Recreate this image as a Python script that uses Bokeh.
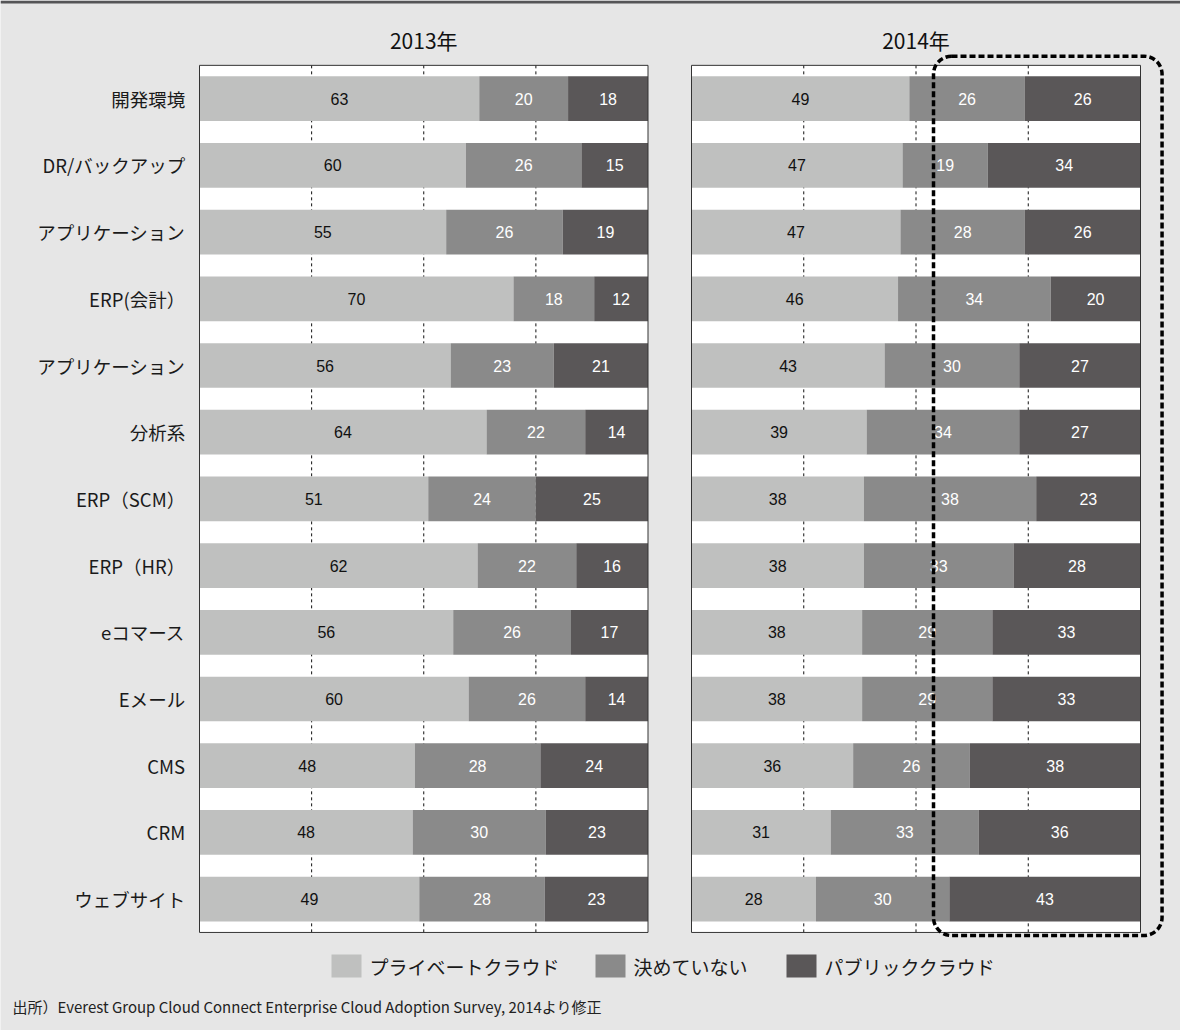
from bokeh.plotting import figure
from bokeh.models import Range1d, ColumnDataSource
from bokeh.core.properties import value
from bokeh.embed import file_html
from bokeh.resources import INLINE

# ---------------- data ----------------
categories = ["開発環境", "DR/バックアップ", "アプリケーション", "ERP(会計）", "アプリケーション",
              "分析系", "ERP（SCM）", "ERP（HR）", "eコマース", "Eメール", "CMS", "CRM", "ウェブサイト"]
series_names = ["プライベートクラウド", "決めていない", "パブリッククラウド"]
private_2013 = [63, 60, 55, 70, 56, 64, 51, 62, 56, 60, 48, 48, 49]
undecided_2013 = [20, 26, 26, 18, 23, 22, 24, 22, 26, 26, 28, 30, 28]
public_2013 = [18, 15, 19, 12, 21, 14, 25, 16, 17, 14, 24, 23, 23]
private_2014 = [49, 47, 47, 46, 43, 39, 38, 38, 38, 38, 36, 31, 28]
undecided_2014 = [26, 19, 28, 34, 30, 34, 38, 33, 29, 29, 26, 33, 30]
public_2014 = [26, 34, 26, 20, 27, 27, 23, 28, 33, 33, 38, 36, 43]
panel_titles = ["2013年", "2014年"]
grid_ticks = [25, 50, 75]
source_text = "出所）Everest Group Cloud Connect Enterprise Cloud Adoption Survey, 2014より修正"

# ---------------- style / layout ----------------
W, H = 1180, 1030
FONT = value("Noto Sans CJK JP")
NUMFONT = value("Liberation Sans")
colors = ["#bfc0bf", "#8a8a8a", "#5a5758"]
label_colors = ["#111111", "#ffffff", "#ffffff"]
BG = "#e6e6e6"
row_px = 66.7
row0_px = 98.2
p1_left, p1_right = 199.0, 647.5
p2_left, p2_right = 691.0, 1140.0

def xr(left, right):
    s = (right - left) / 100.0
    return Range1d(-left / s, (W - left) / s)

p = figure(width=W, height=H, output_backend="svg", toolbar_location=None,
           x_range=xr(p1_left, p1_right),
           y_range=Range1d((H - row0_px) / row_px, -row0_px / row_px),
           x_axis_location=None, y_axis_location=None, min_border=0,
           background_fill_color=BG, border_fill_color=BG, outline_line_color=None)
p.grid.visible = False
p.extra_x_ranges = {"p2": xr(p2_left, p2_right), "px": Range1d(0, W)}
p.extra_y_ranges = {"py": Range1d(H, 0)}

# top dark strip
p.quad(left=[0], right=[W], top=[0], bottom=[3], fill_color="#555557", line_color=None,
       x_range_name="px", y_range_name="py")

n = len(categories)
rows = list(range(n))
panels = [(None, [private_2013, undecided_2013, public_2013]),
          ("p2", [private_2014, undecided_2014, public_2014])]

for rng, series in panels:
    kw = {"x_range_name": rng} if rng else {}
    # white plot area
    p.quad(left=[0], right=[100], top=[-0.5], bottom=[n - 0.5], fill_color="white",
           line_color=None, **kw)
    # dashed grid
    p.segment(x0=grid_ticks, x1=grid_ticks, y0=[-0.5] * len(grid_ticks),
              y1=[n - 0.5] * len(grid_ticks), line_color="#111111", line_width=1,
              line_dash="3 3", **kw)
    totals = [sum(v) for v in zip(*series)]
    cum = [0.0] * n
    for k, vals in enumerate(series):
        left = [c / t * 100 for c, t in zip(cum, totals)]
        cum = [c + v for c, v in zip(cum, vals)]
        right = [c / t * 100 for c, t in zip(cum, totals)]
        src = ColumnDataSource(dict(y=rows, left=left, right=right,
                                    mid=[(a + b) / 2 for a, b in zip(left, right)],
                                    txt=[str(v) for v in vals]))
        p.hbar(y="y", left="left", right="right", height=0.67, source=src,
               fill_color=colors[k], line_color=None, **kw)
        p.text(x="mid", y="y", text="txt", source=src, text_align="center",
               text_baseline="middle", text_font=NUMFONT, text_font_size="16px",
               text_color=label_colors[k], **kw)
    # frame outline
    p.quad(left=[0], right=[100], top=[-0.5], bottom=[n - 0.5], fill_color=None,
           line_color="#333333", line_width=1, **kw)

# category labels
p.text(x=[-3.2] * n, y=rows, text=categories, text_align="right", text_baseline="middle",
       text_font=FONT, text_font_size="18.5px", text_color="#1a1a1a")

# panel titles
p.text(x=[50], y=[39], text=[panel_titles[0]], text_align="center", text_baseline="middle",
       text_font=FONT, text_font_size="21px", text_color="#111111", y_range_name="py")
p.text(x=[50], y=[39], text=[panel_titles[1]], text_align="center", text_baseline="middle",
       text_font=FONT, text_font_size="21px", text_color="#111111",
       x_range_name="p2", y_range_name="py")

# highlight dashed rounded box (2014, right part)
p.quad(left=[53.9], right=[104.8], top=[-0.637], bottom=[12.546], fill_color=None,
       line_color="#000000", line_width=3.5, line_dash="6 3", border_radius=18,
       x_range_name="p2")

# legend
leg_x = [331, 595, 786]
leg_y = 965.5
p.quad(left=leg_x, right=[x + 30 for x in leg_x], top=[leg_y - 11.5] * 3,
       bottom=[leg_y + 11.5] * 3, fill_color=colors, line_color=None,
       x_range_name="px", y_range_name="py")
p.text(x=[x + 38 for x in leg_x], y=[leg_y] * 3, text=series_names, text_align="left",
       text_baseline="middle", text_font=FONT, text_font_size="19px", text_color="#1a1a1a",
       x_range_name="px", y_range_name="py")

# source
p.text(x=[12], y=[1006], text=[source_text], text_align="left", text_baseline="middle",
       text_font=FONT, text_font_size="15px", text_color="#222222",
       x_range_name="px", y_range_name="py")

open("out.html", "w").write(file_html(p, INLINE))
